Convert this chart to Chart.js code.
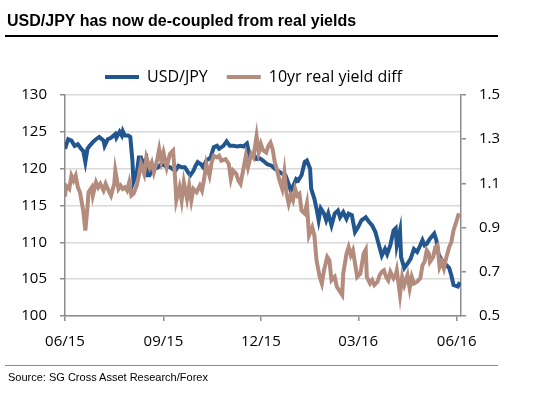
<!DOCTYPE html>
<html>
<head>
<meta charset="utf-8">
<title>USD/JPY vs real yields</title>
<script src="https://cdn.jsdelivr.net/npm/chart.js@4.4.1/dist/chart.umd.min.js"></script>
<style>
  html, body { margin: 0; padding: 0; background: #fff; }
  #wrap { position: relative; width: 540px; height: 393px; overflow: hidden; }
  #chart { position: absolute; left: 0; top: 0; }
  .title { position: absolute; left: 7px; top: 13px; font: bold 16px/16px "Liberation Sans", Arial, sans-serif; color: #000; white-space: nowrap; }
  .rule { position: absolute; left: 5px; width: 493px; }
  .rule.top { top: 35px; height: 2px; background: #000; }
  .rule.bottom { top: 365px; height: 1px; background: #8c8c8c; }
  .source { position: absolute; left: 8px; top: 371px; font: 11px/12px "Liberation Sans", Arial, sans-serif; color: #000; white-space: nowrap; }
</style>
</head>
<body>
<div id="wrap">
  <canvas id="chart" width="540" height="393"></canvas>
  <div class="title">USD/JPY has now de-coupled from real yields</div>
  <div class="rule top"></div>
  <div class="rule bottom"></div>
  <div class="source">Source: SG Cross Asset Research/Forex</div>
</div>
<script>
// days counted from 1 Jun 2015
const tickDays = [0, 92, 183, 274, 366];
const tickLabels = ['06/15', '09/15', '12/15', '03/16', '06/16'];

const fxDays = [
  0, 3, 6, 9, 12, 15, 17, 19, 21, 23,
  26, 29, 32, 36, 37, 40, 43, 47, 48, 51,
  53, 54, 56, 59, 61, 63, 64, 67, 69, 71,
  73, 76, 77, 79, 81, 84, 87, 90, 93, 98,
  103, 106, 109, 112, 115, 117, 120, 122, 124, 127,
  129, 132, 136, 139, 142, 144, 148, 151, 154, 157,
  161, 164, 167, 170, 173, 176, 179, 182, 185, 189,
  193, 196, 199, 203, 206, 209, 211, 214, 216, 218,
  221, 224, 226, 229, 230, 233, 235, 237, 239, 242,
  244, 246, 249, 252, 255, 257, 260, 263, 265, 268,
  271, 274, 277, 281, 284, 287, 290, 293, 296, 299,
  301, 304, 307, 309, 310, 313, 314, 317, 320, 323,
  326, 329, 332, 334, 336, 338, 341, 345, 347, 349,
  352, 355, 359, 361, 363, 367, 369
];
const usdJpy = [
  122.7, 124.0, 123.8, 123.1, 123.3, 122.7, 122.4, 120.9, 122.7, 123.1,
  123.6, 124.0, 124.3, 123.8, 123.1, 124.0, 124.2, 124.7, 124.2, 125.0,
  124.5, 125.1, 124.5, 124.5, 124.3, 121.1, 118.2, 119.3, 121.5, 121.5,
  120.6, 121.3, 119.1, 119.1, 119.7, 120.0, 120.2, 120.6, 120.4, 120.2,
  119.7, 120.4, 120.2, 120.2, 119.5, 119.1, 119.7, 120.4, 120.9, 120.6,
  120.2, 121.1, 121.5, 122.9, 123.1, 122.7, 123.1, 123.7, 123.1, 123.1,
  123.0, 123.1, 123.0, 123.4, 121.5, 122.0, 121.3, 121.4, 121.1, 120.6,
  120.4, 120.0, 119.7, 119.3, 119.1, 117.9, 117.0, 117.9, 118.6, 118.4,
  119.1, 120.9, 121.1, 120.0, 117.3, 115.9, 114.6, 113.0, 114.6, 113.9,
  113.0, 113.9, 112.3, 113.9, 114.3, 113.4, 114.1, 113.2, 113.9, 113.7,
  111.4, 112.1, 113.0, 113.4, 112.8, 112.3, 111.4, 109.8, 108.2, 109.1,
  108.4, 109.6, 111.6, 111.9, 109.6, 111.6, 108.0, 106.5, 107.1, 107.8,
  109.1, 108.7, 109.6, 110.3, 109.6, 109.8, 110.5, 111.2, 110.3, 108.4,
  107.6, 107.1, 106.5, 105.5, 104.2, 104.0, 104.6
];

const ryDays = [
  0, 1, 4, 6, 8, 10, 12, 14, 17, 19,
  21, 22, 25, 26, 29, 31, 33, 36, 38, 40,
  43, 46, 47, 50, 52, 54, 56, 58, 60, 62,
  64, 67, 69, 71, 74, 76, 79, 81, 83, 86,
  88, 90, 92, 95, 98, 101, 103, 104, 107, 109,
  111, 114, 116, 118, 120, 123, 126, 128, 130, 132,
  135, 137, 139, 142, 144, 146, 150, 153, 155, 157,
  160, 162, 164, 167, 169, 171, 174, 176, 179, 181,
  183, 185, 188, 190, 192, 194, 196, 198, 200, 203,
  205, 207, 209, 211, 213, 215, 217, 219, 221, 224,
  226, 228, 231, 233, 235, 238, 240, 242, 245, 247,
  249, 252, 254, 257, 259, 260, 263, 265, 267, 269,
  271, 273, 276, 279, 281, 282, 285, 287, 289, 292,
  294, 296, 298, 300, 302, 304, 307, 309, 310, 313,
  315, 317, 320, 322, 324, 326, 329, 332, 334, 336,
  338, 340, 341, 344, 346, 348, 350, 352, 354, 356,
  359, 361, 363, 366, 368
];
const realYieldDiff = [
  1.04, 1.09, 1.075, 1.135, 1.113, 1.135, 1.082, 1.06, 0.977, 0.887,
  0.992, 1.06, 1.082, 1.045, 1.105, 1.082, 1.098, 1.068, 1.098, 1.075,
  1.045, 1.098, 1.158, 1.075, 1.09, 1.075, 1.082, 1.068, 1.105, 1.045,
  1.053, 1.09, 1.135, 1.188, 1.143, 1.218, 1.173, 1.195, 1.15, 1.203,
  1.255, 1.2, 1.24, 1.173, 1.233, 1.248, 1.113, 1.023, 1.082, 1.023,
  1.105, 1.03, 1.09, 1.023, 1.075, 1.06, 1.09, 1.068, 1.12, 1.188,
  1.135, 1.195, 1.225, 1.218, 1.225, 1.203, 1.21, 1.188, 1.12, 1.158,
  1.143, 1.113, 1.098, 1.173, 1.225, 1.173, 1.233, 1.218, 1.315, 1.24,
  1.278, 1.25, 1.24, 1.27, 1.285, 1.255, 1.195, 1.165, 1.12, 1.075,
  1.15, 1.053, 1.008, 1.045, 1.023, 1.075, 1.045, 1.053, 0.977, 0.963,
  1.008, 0.865, 0.902, 0.865, 0.752, 0.677, 0.647, 0.707, 0.767, 0.752,
  0.662, 0.677, 0.632, 0.61, 0.595, 0.692, 0.782, 0.812, 0.775, 0.797,
  0.737, 0.677, 0.692, 0.782, 0.80, 0.677, 0.647, 0.662, 0.64, 0.655,
  0.685, 0.70, 0.707, 0.677, 0.662, 0.70, 0.67, 0.685, 0.707, 0.595,
  0.677, 0.64, 0.685, 0.625, 0.677, 0.647, 0.655, 0.67, 0.73, 0.745,
  0.797, 0.782, 0.745, 0.767, 0.812, 0.82, 0.722, 0.745, 0.715, 0.76,
  0.812, 0.835, 0.887, 0.932, 0.965
];

const AXIS = '#8c8c8c', GRID = '#d9d9d9';
const tickFont = { family: '"Open Sans", sans-serif', size: 15 };
const toPoints = (xs, ys) => xs.map((x, i) => ({ x, y: ys[i] }));

new Chart(document.getElementById('chart'), {
  type: 'line',
  data: {
    datasets: [
      { label: 'USD/JPY', data: toPoints(fxDays, usdJpy), yAxisID: 'y', borderColor: '#22568f', backgroundColor: '#22568f', borderWidth: 4, pointRadius: 0, order: 1 },
      { label: '10yr real yield diff', data: toPoints(ryDays, realYieldDiff), yAxisID: 'y2', borderColor: '#b38c7d', backgroundColor: '#b38c7d', borderWidth: 4, pointRadius: 0, order: 0 },
    ],
  },
  options: {
    responsive: false,
    animation: false,
    devicePixelRatio: 1,
    layout: { padding: { top: 50, left: 0, right: 33, bottom: 47 } },
    plugins: {
      tooltip: { enabled: false },
      legend: {
        position: 'top',
        labels: {
          color: '#000', font: { family: '"Open Sans", sans-serif', size: 16 },
          usePointStyle: true, pointStyle: 'line', pointStyleWidth: 34, padding: 19,
          sort: (a, b) => a.datasetIndex - b.datasetIndex,
        },
      },
    },
    scales: {
      x: {
        type: 'linear', min: 0, max: 370,
        afterBuildTicks: (s) => { s.ticks = tickDays.map((v) => ({ value: v })); },
        afterFit: (s) => { s.height = 30; },
        ticks: { autoSkip: false, maxRotation: 0, padding: 12, color: '#000', font: tickFont, callback: (v, i) => tickLabels[i] },
        grid: { drawOnChartArea: false, tickLength: 5, tickColor: AXIS, lineWidth: 1.5 },
        border: { color: AXIS, width: 1.5 },
      },
      y: {
        position: 'left', min: 100, max: 130,
        afterFit: (s) => { s.width = 65; },
        ticks: { stepSize: 5, padding: 13, color: '#000', font: tickFont },
        grid: { color: GRID, lineWidth: 1.5, tickLength: 5, tickColor: AXIS },
        border: { color: AXIS, width: 1.5 },
      },
      y2: {
        position: 'right', min: 0.5, max: 1.5,
        afterFit: (s) => { s.width = 46; },
        ticks: { stepSize: 0.2, padding: 13, color: '#000', font: tickFont, callback: (v) => v.toFixed(1) },
        grid: { drawOnChartArea: false, tickLength: 5, tickColor: AXIS, lineWidth: 1.5 },
        border: { color: AXIS, width: 1.5 },
      },
    },
  },
});
</script>
</body>
</html>
